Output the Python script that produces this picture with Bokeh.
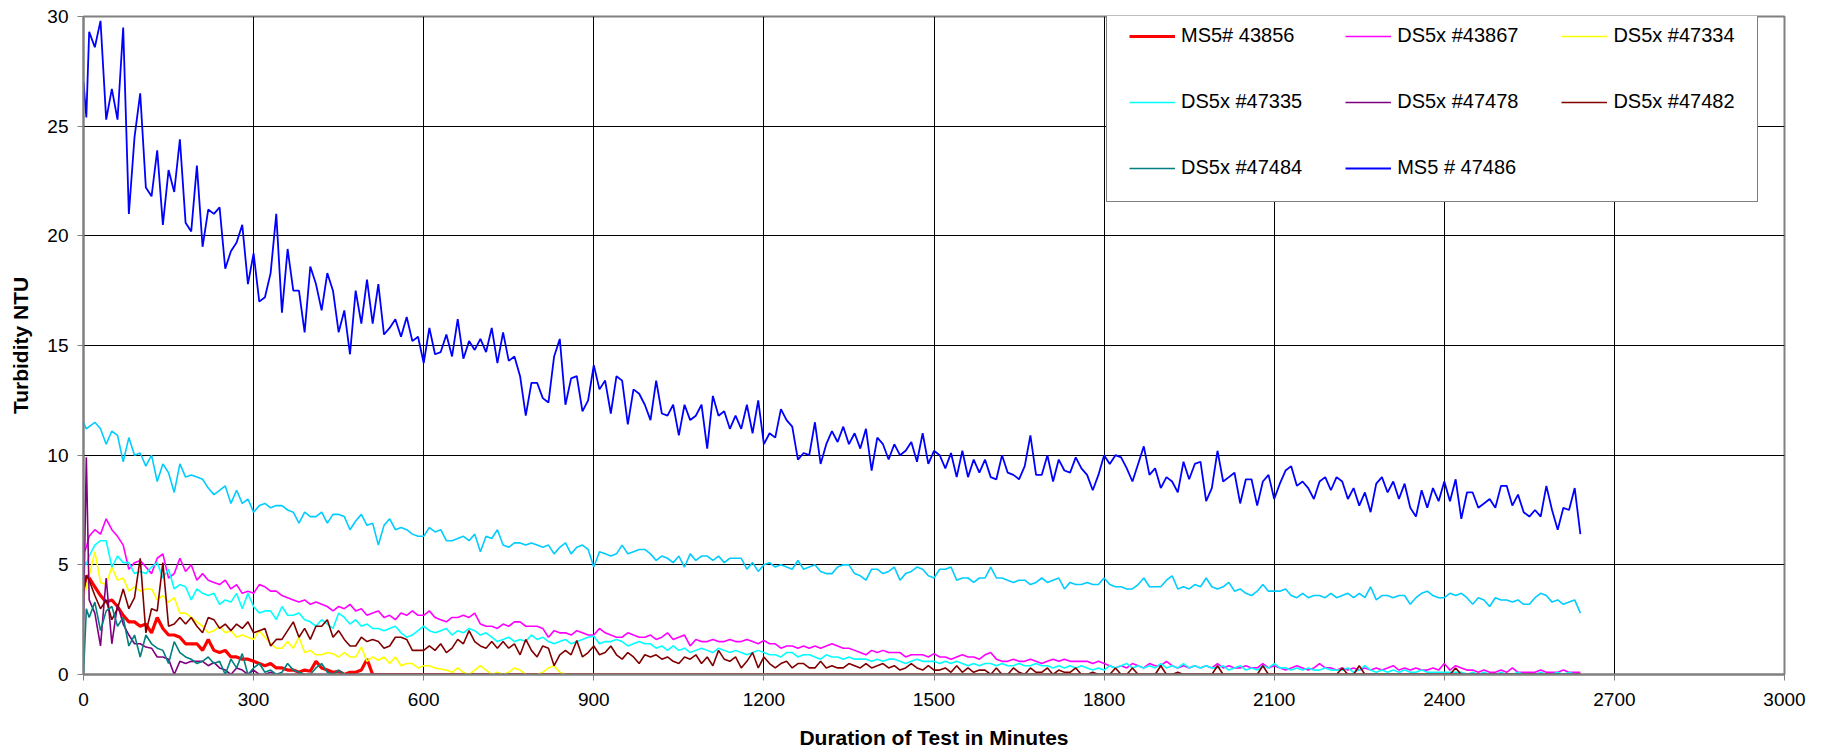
from bokeh.plotting import figure
from bokeh.models import (ColumnDataSource, Range1d, FixedTicker, Legend, LegendItem)
from bokeh.embed import file_html
from bokeh.resources import INLINE

# ---------------- data ----------------
TIME = [0, 5] + list(range(10, 2650, 10))   # minutes

MS5_47486 = [
    27.0, 25.4, 29.3, 28.6, 29.8, 25.3, 26.7, 25.3, 29.5, 21.0, 24.5,
    26.5, 22.2, 21.8, 23.9, 20.5, 23.0, 22.0, 24.4, 20.6, 20.2,
    23.2, 19.5, 21.2, 21.0, 21.3, 18.5, 19.3, 19.7, 20.5, 17.8,
    19.2, 17.0, 17.2, 18.3, 21.0, 16.5, 19.4, 17.5, 17.5, 15.6,
    18.6, 17.8, 16.6, 18.3, 17.5, 15.6, 16.6, 14.6, 17.5, 16.0,
    18.0, 16.0, 17.8, 15.5, 15.8, 16.2, 15.4, 16.3, 15.2, 15.4,
    14.2, 15.8, 14.6, 14.7, 15.5, 14.5, 16.2, 14.4, 15.2, 14.8,
    15.3, 14.7, 15.8, 14.2, 15.6, 14.3, 14.5, 13.6, 11.8, 13.3,
    13.3, 12.6, 12.4, 14.5, 15.3, 12.3, 13.5, 13.6, 12.0, 12.5,
    14.1, 13.0, 13.4, 11.9, 13.6, 13.4, 11.4, 13.0, 12.8, 12.3,
    11.6, 13.4, 11.9, 11.8, 12.3, 10.9, 12.3, 11.6, 11.8, 12.3,
    10.3, 12.7, 11.8, 12.0, 11.2, 11.8, 11.2, 12.3, 11.0, 12.5,
    10.5, 11.0, 10.8, 12.1, 11.6, 11.3, 9.8, 10.1, 10.0, 11.5,
    9.6, 10.5, 11.1, 10.6, 11.3, 10.5, 11.0, 10.3, 11.2, 9.3,
    10.8, 10.5, 9.8, 10.5, 10.0, 10.2, 10.6, 9.7, 11.0, 9.6,
    10.2, 10.0, 9.4, 10.1, 9.0, 10.2, 9.0, 9.8, 9.2, 9.8,
    9.0, 8.9, 10.0, 9.2, 9.1, 8.9, 9.5, 10.9, 9.1, 9.1,
    10.0, 8.8, 9.8, 9.3, 9.2, 9.9, 9.4, 9.1, 8.4, 9.1,
    10.0, 9.6, 10.0, 9.9, 9.4, 8.8, 9.6, 10.4, 9.1, 9.4,
    8.5, 9.0, 8.8, 8.3, 9.7, 8.9, 9.6, 9.7, 7.9, 8.5,
    10.2, 8.8, 9.0, 9.2, 7.8, 8.9, 8.9, 7.7, 8.8, 9.1,
    8.0, 8.7, 9.3, 9.5, 8.6, 8.8, 8.5, 8.0, 8.8, 9.0,
    8.4, 9.0, 8.8, 8.0, 8.5, 7.7, 8.3, 7.4, 8.7, 9.0,
    8.3, 8.8, 8.0, 8.7, 7.6, 7.2, 8.4, 7.6, 8.5, 7.9,
    8.8, 7.9, 8.9, 7.1, 8.3, 8.3, 7.6, 7.8, 8.0, 7.6,
    8.6, 8.6, 7.7, 8.2, 7.4, 7.2, 7.5, 7.2, 8.6, 7.5,
    6.6, 7.6, 7.5, 8.5, 6.4,
]

UNLABELED = [
    11.5, 11.2, 11.3, 11.5, 11.2, 10.5, 11.1, 10.9, 9.7, 10.8, 10.0,
    10.1, 9.5, 10.0, 8.8, 9.6, 9.2, 8.3, 9.6, 9.0, 9.1,
    9.0, 8.9, 8.5, 8.2, 8.4, 8.6, 7.8, 8.4, 7.8, 8.0,
    7.4, 7.7, 7.8, 7.6, 7.7, 7.7, 7.5, 7.4, 6.9, 7.4,
    7.2, 7.2, 7.4, 6.9, 7.3, 7.3, 7.2, 6.6, 7.0, 7.3,
    6.8, 6.9, 5.9, 6.8, 7.1, 6.6, 6.7, 6.6, 6.4, 6.3,
    6.3, 6.7, 6.5, 6.6, 6.1, 6.1, 6.2, 6.3, 6.1, 6.4,
    5.6, 6.3, 6.2, 6.6, 5.9, 5.8, 6.0, 6.0, 5.9, 6.0,
    5.9, 5.8, 5.9, 5.5, 5.8, 6.0, 5.5, 5.8, 5.9, 5.7,
    4.9, 5.6, 5.5, 5.4, 5.5, 5.9, 5.5, 5.6, 5.7, 5.7,
    5.5, 5.2, 5.4, 5.3, 5.1, 5.4, 4.9, 5.5, 5.2, 5.4,
    5.4, 5.2, 5.4, 5.1, 5.3, 5.3, 5.3, 4.8, 5.1, 4.7,
    5.0, 5.1, 4.9, 5.0, 4.9, 4.8, 5.2, 4.8, 4.9, 5.0,
    4.7, 4.6, 4.6, 4.9, 5.0, 5.0, 4.6, 4.5, 4.3, 4.8,
    4.8, 4.6, 4.7, 4.9, 4.3, 4.6, 4.7, 4.9, 4.8, 4.5,
    4.4, 4.8, 4.8, 4.9, 4.3, 4.4, 4.4, 4.2, 4.4, 4.4,
    4.9, 4.4, 4.4, 4.3, 4.2, 4.3, 4.3, 4.1, 4.2, 4.4,
    4.2, 4.3, 4.4, 3.9, 4.2, 4.1, 4.1, 4.2, 4.1, 4.1,
    4.4, 4.1, 4.0, 4.0, 3.9, 3.9, 4.1, 4.4, 4.0, 4.0,
    4.0, 4.3, 4.5, 3.9, 4.0, 3.9, 4.1, 4.0, 4.4, 4.0,
    3.9, 4.0, 4.2, 3.8, 3.9, 3.7, 3.6, 3.8, 4.1, 3.8,
    3.8, 3.8, 3.9, 3.6, 3.5, 3.7, 3.5, 3.6, 3.6, 3.5,
    3.7, 3.5, 3.6, 3.7, 3.5, 3.7, 3.5, 4.0, 3.4, 3.6,
    3.6, 3.5, 3.6, 3.6, 3.2, 3.5, 3.7, 3.8, 3.6, 3.5,
    3.5, 3.7, 3.6, 3.7, 3.5, 3.2, 3.5, 3.4, 3.1, 3.5,
    3.4, 3.4, 3.3, 3.4, 3.2, 3.2, 3.5, 3.7, 3.6, 3.3,
    3.4, 3.2, 3.3, 3.4, 2.8,
]

DS5X_43867 = [
    5.5, 5.8, 6.3, 6.6, 6.4, 7.1, 6.6, 6.3, 5.9, 4.8, 5.1,
    5.2, 4.9, 4.6, 5.3, 5.5, 4.4, 4.6, 5.3, 4.7, 5.0,
    4.3, 4.6, 4.3, 4.2, 4.1, 4.3, 3.9, 4.1, 3.7, 3.8,
    3.7, 4.1, 4.0, 3.8, 3.8, 3.6, 3.5, 3.4, 3.3, 3.4,
    3.2, 3.3, 3.2, 3.1, 2.9, 3.1, 3.0, 3.2, 2.9, 3.0,
    2.7, 2.8, 2.9, 2.6, 2.7, 2.5, 2.8, 2.7, 2.9, 2.7,
    2.7, 2.9, 2.6, 2.5, 2.4, 2.6, 2.6, 2.7, 2.6, 2.8,
    2.3, 2.2, 2.2, 2.1, 2.3, 2.2, 2.4, 2.4, 2.2, 2.2,
    2.2, 2.1, 1.7, 2.0, 1.9, 1.9, 1.8, 2.0, 1.9, 1.8,
    1.8, 2.1, 1.9, 1.8, 1.7, 1.7, 1.9, 1.8, 1.7, 1.7,
    1.8, 1.6, 1.7, 1.9, 1.6, 1.7, 1.8, 1.3, 1.6, 1.5,
    1.5, 1.6, 1.5, 1.5, 1.6, 1.5, 1.5, 1.6, 1.5, 1.4,
    1.55, 1.4, 1.4, 1.2, 1.3, 1.3, 1.2, 1.3, 1.2, 1.3,
    1.2, 1.3, 1.4, 1.3, 1.2, 1.2, 1.1, 1.0, 0.9, 1.1,
    1.0, 1.1, 1.0, 1.0, 1.0, 0.8, 0.9, 0.9, 0.9, 0.8,
    0.95, 0.8, 0.8, 0.7, 0.8, 0.9, 0.8, 0.8, 0.7, 0.9,
    1.0, 0.7, 0.6, 0.6, 0.7, 0.6, 0.6, 0.7, 0.6, 0.5,
    0.6, 0.7, 0.6, 0.7, 0.6, 0.6, 0.6, 0.6, 0.5, 0.6,
    0.5, 0.4, 0.3, 0.4, 0.3, 0.5, 0.4, 0.3, 0.5, 0.4,
    0.4, 0.6, 0.4, 0.3, 0.4, 0.3, 0.4, 0.3, 0.4, 0.3,
    0.5, 0.3, 0.4, 0.3, 0.3, 0.4, 0.3, 0.3, 0.5, 0.3,
    0.4, 0.3, 0.2, 0.3, 0.4, 0.3, 0.2, 0.3, 0.5, 0.3,
    0.3, 0.2, 0.3, 0.2, 0.3, 0.2, 0.3, 0.2, 0.3, 0.2,
    0.3, 0.4, 0.2, 0.3, 0.2, 0.3, 0.2, 0.2, 0.3, 0.2,
    0.5, 0.2, 0.4, 0.3, 0.2, 0.2, 0.1, 0.2, 0.1, 0.1,
    0.2, 0.1, 0.3, 0.1, 0.1, 0.1, 0.1, 0.2, 0.1, 0.1,
    0.1, 0.2, 0.1, 0.1, 0.1,
]

DS5X_47335 = [
    5.2, 5.0, 5.4, 5.9, 6.1, 6.1, 4.9, 5.4, 5.1, 5.1, 4.6,
    4.7, 4.6, 4.9, 5.1, 4.4, 4.8, 3.9, 4.1, 4.0, 3.4,
    3.9, 3.7, 3.6, 3.7, 3.2, 3.4, 3.3, 3.7, 3.0, 3.7,
    3.1, 2.8, 2.9, 2.9, 2.5, 3.1, 2.7, 2.7, 2.8, 2.5,
    2.4, 2.2, 2.5, 2.3, 2.1, 2.8, 2.6, 2.3, 2.5, 2.2,
    2.3, 2.1, 2.1, 2.0, 2.1, 2.2, 1.9, 1.7, 1.8, 2.0,
    2.2, 2.0, 1.9, 2.0, 2.1, 1.8, 2.0, 1.9, 2.1, 2.0,
    1.8, 1.9, 1.7, 1.5, 1.6, 1.7, 1.5, 1.6, 1.5, 1.8,
    1.6, 1.7, 1.5, 1.4, 1.5, 1.6, 1.4, 1.5, 1.6, 1.7,
    1.75, 1.4, 1.5, 1.5, 1.6, 1.5, 1.3, 1.4, 1.5, 1.4,
    1.4, 1.2, 1.3, 1.1, 1.3, 1.1, 1.2, 1.0, 1.1, 1.2,
    1.1, 1.0, 1.2, 1.1, 1.0, 1.1, 1.0, 0.9, 1.0, 1.1,
    1.0, 0.9, 0.9, 0.8, 1.0, 1.0, 0.8, 0.9, 0.9, 0.8,
    0.7, 0.9, 0.8, 0.8, 0.7, 0.8, 0.7, 0.7, 0.7, 0.6,
    0.7, 0.6, 0.7, 0.7, 0.6, 0.5, 0.6, 0.7, 0.6, 0.6,
    0.6, 0.5, 0.6, 0.5, 0.6, 0.5, 0.4, 0.5, 0.4, 0.5,
    0.5, 0.4, 0.5, 0.4, 0.4, 0.5, 0.4, 0.4, 0.5, 0.4,
    0.4, 0.3, 0.4, 0.3, 0.4, 0.3, 0.4, 0.3, 0.2, 0.3,
    0.2, 0.4, 0.3, 0.4, 0.5, 0.3, 0.4, 0.3, 0.4, 0.3,
    0.5, 0.3, 0.4, 0.3, 0.5, 0.3, 0.4, 0.3, 0.4, 0.3,
    0.3, 0.4, 0.2, 0.3, 0.4, 0.2, 0.3, 0.2, 0.4, 0.3,
    0.5, 0.3, 0.3, 0.2, 0.3, 0.2, 0.3, 0.2, 0.2, 0.3,
    0.2, 0.2, 0.2, 0.3, 0.1, 0.2, 0.4, 0.2, 0.1, 0.2,
    0.1, 0.2, 0.1, 0.2, 0.1, 0.1, 0.2, 0.1, 0.1, 0.1,
    0.1, 0.1, 0.1, 0.1, 0.0, 0.1, 0.0, 0.1, 0.0, 0.0,
    0.1, 0.0, 0.0, 0.1, 0.0, 0.0, 0.0, 0.1, 0.0, 0.0,
    0.1, 0.0, 0.1, 0.0, 0.0,
]

DS5X_47482 = [
    3.8, 4.5, 4.3, 3.6, 3.0, 3.4, 2.5, 3.0, 3.9, 3.0, 3.5,
    5.3, 1.9, 3.0, 2.9, 5.1, 2.2, 2.3, 2.6, 2.3, 2.6,
    2.2, 1.9, 2.6, 2.5, 2.1, 2.3, 2.0, 2.3, 2.1, 2.4,
    1.9, 2.0, 2.1, 1.3, 1.6, 1.6, 2.0, 2.4, 1.7, 2.1,
    1.6, 2.2, 2.2, 2.5, 1.7, 2.0, 1.6, 1.3, 1.3, 1.7,
    1.5, 1.6, 1.5, 1.2, 1.3, 1.7, 1.7, 1.6, 1.1, 1.1,
    1.1, 1.3, 1.1, 1.4, 1.0, 1.2, 1.6, 1.4, 2.0, 1.5,
    1.3, 1.2, 1.5, 1.2, 1.5, 1.2, 1.4, 0.9, 1.6, 1.1,
    0.8, 1.3, 1.2, 0.4, 0.9, 1.1, 0.9, 1.55, 0.8, 1.0,
    1.3, 0.9, 1.0, 1.3, 0.9, 0.7, 1.0, 0.8, 0.5, 0.9,
    0.8, 0.9, 0.7, 0.8, 0.6, 0.5, 0.8, 0.7, 0.9, 0.5,
    0.8, 0.4, 1.1, 0.7, 0.6, 0.8, 0.3, 0.6, 1.0, 0.3,
    0.8, 0.5, 0.3, 0.5, 0.6, 0.3, 0.5, 0.5, 0.3, 0.3,
    0.6, 0.3, 0.4, 0.3, 0.3, 0.5, 0.4, 0.3, 0.5, 0.3,
    0.4, 0.5, 0.3, 0.4, 0.2, 0.3, 0.5, 0.3, 0.2, 0.4,
    0.2, 0.2, 0.3, 0.1, 0.4, 0.1, 0.3, 0.1, 0.2, 0.2,
    0.0, 0.3, 0.0, 0.0, 0.3, 0.1, 0.0, 0.3, 0.1, 0.1,
    0.3, 0.0, 0.2, 0.1, 0.1, 0.3, 0.0, 0.0, 0.1, 0.0,
    0.0, 0.0, 0.3, 0.0, 0.0, 0.3, 0.0, 0.0, 0.0, 0.0,
    0.4, 0.0, 0.0, 0.1, 0.0, 0.0, 0.0, 0.0, 0.0, 0.0,
    0.4, 0.0, 0.0, 0.0, 0.0, 0.0, 0.0, 0.0, 0.4, 0.0,
    0.0, 0.0, 0.0, 0.0, 0.0, 0.0, 0.0, 0.0, 0.0, 0.0,
    0.0, 0.0, 0.3, 0.0, 0.0, 0.4, 0.0, 0.0, 0.0, 0.0,
    0.0, 0.0, 0.0, 0.0, 0.0, 0.0, 0.0, 0.0, 0.0, 0.0,
    0.0, 0.0, 0.3, 0.0,
]

DS5X_47334 = [
    3.4, 4.0, 4.5, 5.6, 4.2, 4.1, 4.9, 4.3, 4.4, 3.8, 4.0,
    3.8, 3.9, 3.9, 3.4, 3.6, 3.3, 3.5, 2.8, 2.8, 2.6,
    2.4, 2.2, 1.9, 2.0, 2.2, 1.9, 2.0, 1.7, 1.8, 1.7,
    1.6, 2.0, 1.7, 1.4, 1.2, 1.2, 1.5, 1.2, 1.7, 1.0,
    1.1, 0.9, 0.9, 1.0, 0.95, 0.8, 1.0, 0.8, 0.8, 1.25,
    0.6, 0.8, 0.65, 0.8, 0.5, 0.8, 0.4, 0.5, 0.5, 0.3,
    0.4, 0.4, 0.3, 0.25, 0.2, 0.1, 0.3, 0.1, 0.0, 0.2,
    0.4, 0.2, 0.0, 0.1, 0.0, 0.1, 0.3, 0.2, 0.0, 0.0,
    0.0, 0.1, 0.3, 0.4, 0.1, 0.0,
]

MS5_43856 = [
    3.8, 4.5, 4.4, 4.0, 3.6, 3.3, 3.4, 3.1, 2.7, 2.4, 2.4,
    2.2, 2.3, 1.9, 2.6, 2.1, 1.8, 1.8, 1.7, 1.4, 1.4,
    1.4, 1.1, 1.6, 1.1, 1.0, 1.1, 0.8, 0.8, 0.7, 0.7,
    0.6, 0.5, 0.4, 0.5, 0.3, 0.3, 0.2, 0.2, 0.1, 0.2,
    0.15, 0.6, 0.3, 0.2, 0.1, 0.15, 0.0, 0.1, 0.1, 0.2,
    0.7, 0.0,
]

DS5X_47478 = [
    2.5, 9.9, 3.4, 2.8, 1.3, 4.4, 1.4, 3.2, 2.3, 1.8, 1.4,
    1.4, 1.25, 1.2, 0.8, 0.8, 0.7, 0.0, 0.6, 0.5, 0.6,
    0.6, 0.6, 0.4, 0.55, 0.3, 0.2, 0.0, 0.3, 0.2, 0.0,
    0.2, 0.0, 0.0, 0.1, 0.0,
]

DS5X_47484 = [
    0.0, 3.0, 2.6, 3.3, 2.0, 2.9, 3.1, 2.2, 2.6, 1.3, 1.8,
    0.8, 1.8, 1.4, 1.2, 1.1, 0.5, 1.5, 1.0, 0.8, 0.7,
    0.5, 0.6, 0.8, 0.5, 0.6, 0.0, 0.7, 0.3, 0.95, 0.0,
    0.3, 0.5, 0.1, 0.2, 0.0, 0.1, 0.5, 0.2, 0.1, 0.0,
    0.0, 0.3, 0.5, 0.1, 0.0, 0.2, 0.0,
]

XTICKS = [0, 300, 600, 900, 1200, 1500, 1800, 2100, 2400, 2700, 3000]
YTICKS = [0, 5, 10, 15, 20, 25, 30]

SERIES = [  # (legend label, values, colour, width)
    ("MS5# 43856", MS5_43856, "#FF0000", 3.2),
    ("DS5x #43867", DS5X_43867, "#FF00FF", 1.6),
    ("DS5x #47334", DS5X_47334, "#FFFF00", 1.6),
    ("DS5x #47335", DS5X_47335, "#00FFFF", 1.6),
    ("DS5x #47478", DS5X_47478, "#800080", 1.6),
    ("DS5x #47482", DS5X_47482, "#800000", 1.6),
    ("DS5x #47484", DS5X_47484, "#008080", 1.6),
    ("MS5 # 47486", MS5_47486, "#0000FF", 1.8),
    (None, UNLABELED, "#00CCFF", 1.6),
]

# the low series stay at zero after their last reading
def full(vals):
    vals = list(vals)[:len(TIME)]
    return vals + [0.0] * (len(TIME) - len(vals))

# ---------------- figure ----------------
FONT = "Liberation Sans"
p = figure(width=1822, height=752, output_backend="svg", toolbar_location=None,
           x_range=Range1d(0, 3000), y_range=Range1d(0, 30),
           min_border_left=83, min_border_right=38, min_border_top=16,
           min_border_bottom=78)
p.background_fill_color = "white"
p.border_fill_color = "white"
p.outline_line_color = "#808080"
p.outline_line_width = 2

for grid in (p.xgrid, p.ygrid):
    grid.grid_line_color = "black"
    grid.grid_line_width = 1
    grid.grid_line_alpha = 1.0

p.xaxis.ticker = FixedTicker(ticks=XTICKS)
p.yaxis.ticker = FixedTicker(ticks=YTICKS)
p.xgrid.ticker = FixedTicker(ticks=XTICKS)
p.ygrid.ticker = FixedTicker(ticks=YTICKS)

for ax in (p.xaxis, p.yaxis):
    ax.axis_line_color = "#808080"
    ax.axis_line_width = 2
    ax.major_tick_line_color = "#808080"
    ax.major_tick_line_width = 1
    ax.major_tick_out = 6
    ax.major_tick_in = 0
    ax.minor_tick_out = 0
    ax.minor_tick_in = 0
    ax.major_label_text_font = FONT
    ax.major_label_text_font_size = "19px"
    ax.major_label_text_color = "black"
    ax.axis_label_text_font = FONT
    ax.axis_label_text_font_style = "bold"
    ax.axis_label_text_color = "black"

p.xaxis.axis_label = "Duration of Test in Minutes"
p.yaxis.axis_label = "Turbidity NTU"
p.xaxis.axis_label_text_font_size = "21px"
p.yaxis.axis_label_text_font_size = "21px"
p.xaxis.major_label_standoff = 12
p.yaxis.major_label_standoff = 9
p.xaxis.axis_label_standoff = 17
p.yaxis.axis_label_standoff = 12

data = {"t": TIME}
for i, (_, vals, _, _) in enumerate(SERIES):
    data["s%d" % i] = full(vals)
src = ColumnDataSource(data)

items = []
for i, (label, _, color, w) in enumerate(SERIES):
    r = p.line(x="t", y="s%d" % i, source=src, line_color=color, line_width=w)
    if label is not None:
        items.append(LegendItem(label=label, renderers=[r]))

legend = Legend(items=items, location=(1023, 472), orientation="horizontal", ncols=3,
                border_line_color="black", border_line_width=1,
                background_fill_color="white", background_fill_alpha=1.0,
                label_text_font=FONT, label_text_font_size="20px",
                label_text_color="black",
                glyph_width=46, glyph_height=20, label_height=20,
                label_standoff=6, spacing=43, padding=22, margin=0)
p.add_layout(legend)

open("out.html", "w").write(file_html(p, INLINE))
